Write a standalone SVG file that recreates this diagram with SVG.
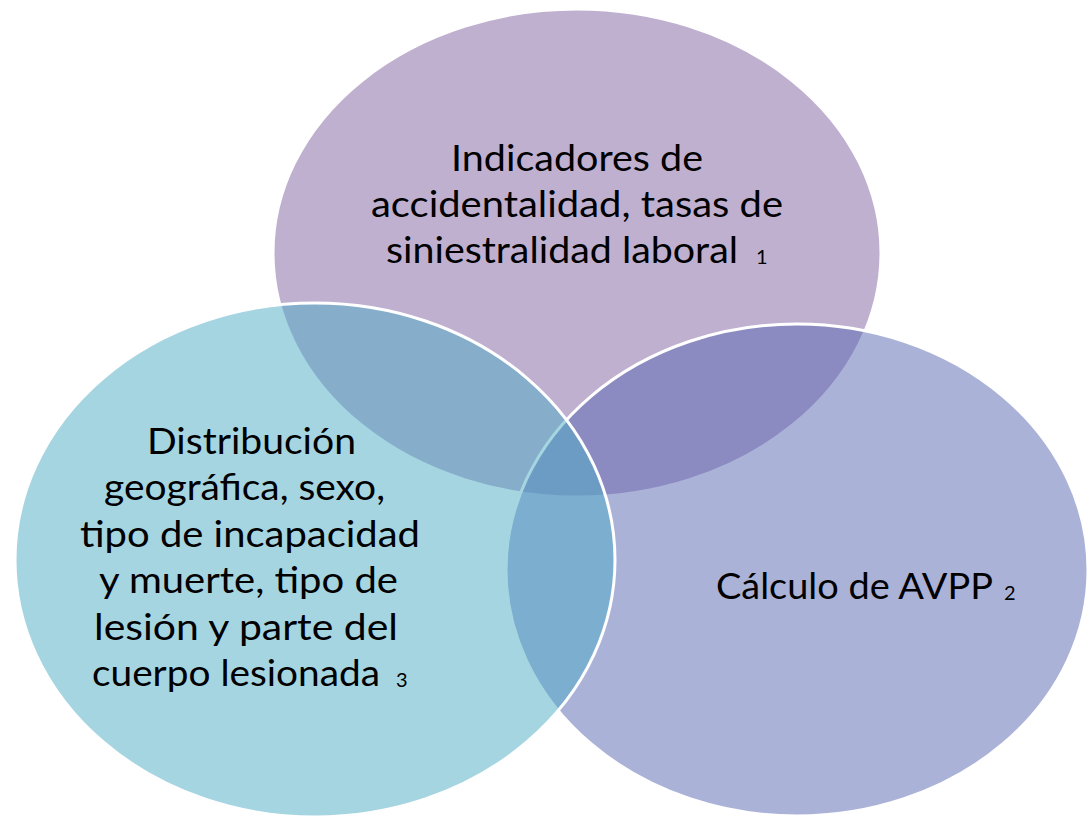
<svg xmlns="http://www.w3.org/2000/svg" width="1087" height="821" viewBox="0 0 1087 821">
<style>
.shape{fill-opacity:0.5;stroke:#FFFFFF;stroke-width:3}
.lbl{font-family:Lato,"Liberation Sans",sans-serif;font-size:36px;fill:#000000;text-anchor:middle}
.num{font-family:Lato,"Liberation Sans",sans-serif;font-size:20px;fill:#000000}
</style>
<rect width="1087" height="821" fill="#FFFFFF"/>
<g id="connectors"/>
<g id="node-top">
<ellipse class="shape" cx="577" cy="253" rx="304" ry="244" fill="#7F61A1"/>
<text class="lbl" x="577" y="171" textLength="252" lengthAdjust="spacingAndGlyphs">Indicadores de</text>
<text class="lbl" x="577" y="217" textLength="412" lengthAdjust="spacingAndGlyphs">accidentalidad, tasas de</text>
<text class="lbl" x="562" y="263" textLength="352" lengthAdjust="spacingAndGlyphs">siniestralidad laboral</text>
<text class="num" x="756" y="264">1</text>
</g>
<g id="node-right">
<ellipse class="shape" cx="797" cy="570" rx="291" ry="246" fill="#5765B1"/>
<text class="lbl" x="854.5" y="599" textLength="277" lengthAdjust="spacingAndGlyphs">Cálculo de AVPP</text>
<text class="num" x="1004" y="600">2</text>
</g>
<g id="node-left">
<ellipse class="shape" cx="315" cy="560" rx="300" ry="257" fill="#4DABC5"/>
<text class="lbl" x="251.5" y="454" textLength="209" lengthAdjust="spacingAndGlyphs">Distribución</text>
<text class="lbl" x="244.5" y="500" textLength="281" lengthAdjust="spacingAndGlyphs">geográfica, sexo,</text>
<text class="lbl" x="250" y="547" textLength="340" lengthAdjust="spacingAndGlyphs">tipo de incapacidad</text>
<text class="lbl" x="248.5" y="593" textLength="299" lengthAdjust="spacingAndGlyphs">y muerte, tipo de</text>
<text class="lbl" x="246" y="640" textLength="304" lengthAdjust="spacingAndGlyphs">lesión y parte del</text>
<text class="lbl" x="236" y="686" textLength="288" lengthAdjust="spacingAndGlyphs">cuerpo lesionada</text>
<text class="num" x="396" y="687">3</text>
</g>
</svg>
